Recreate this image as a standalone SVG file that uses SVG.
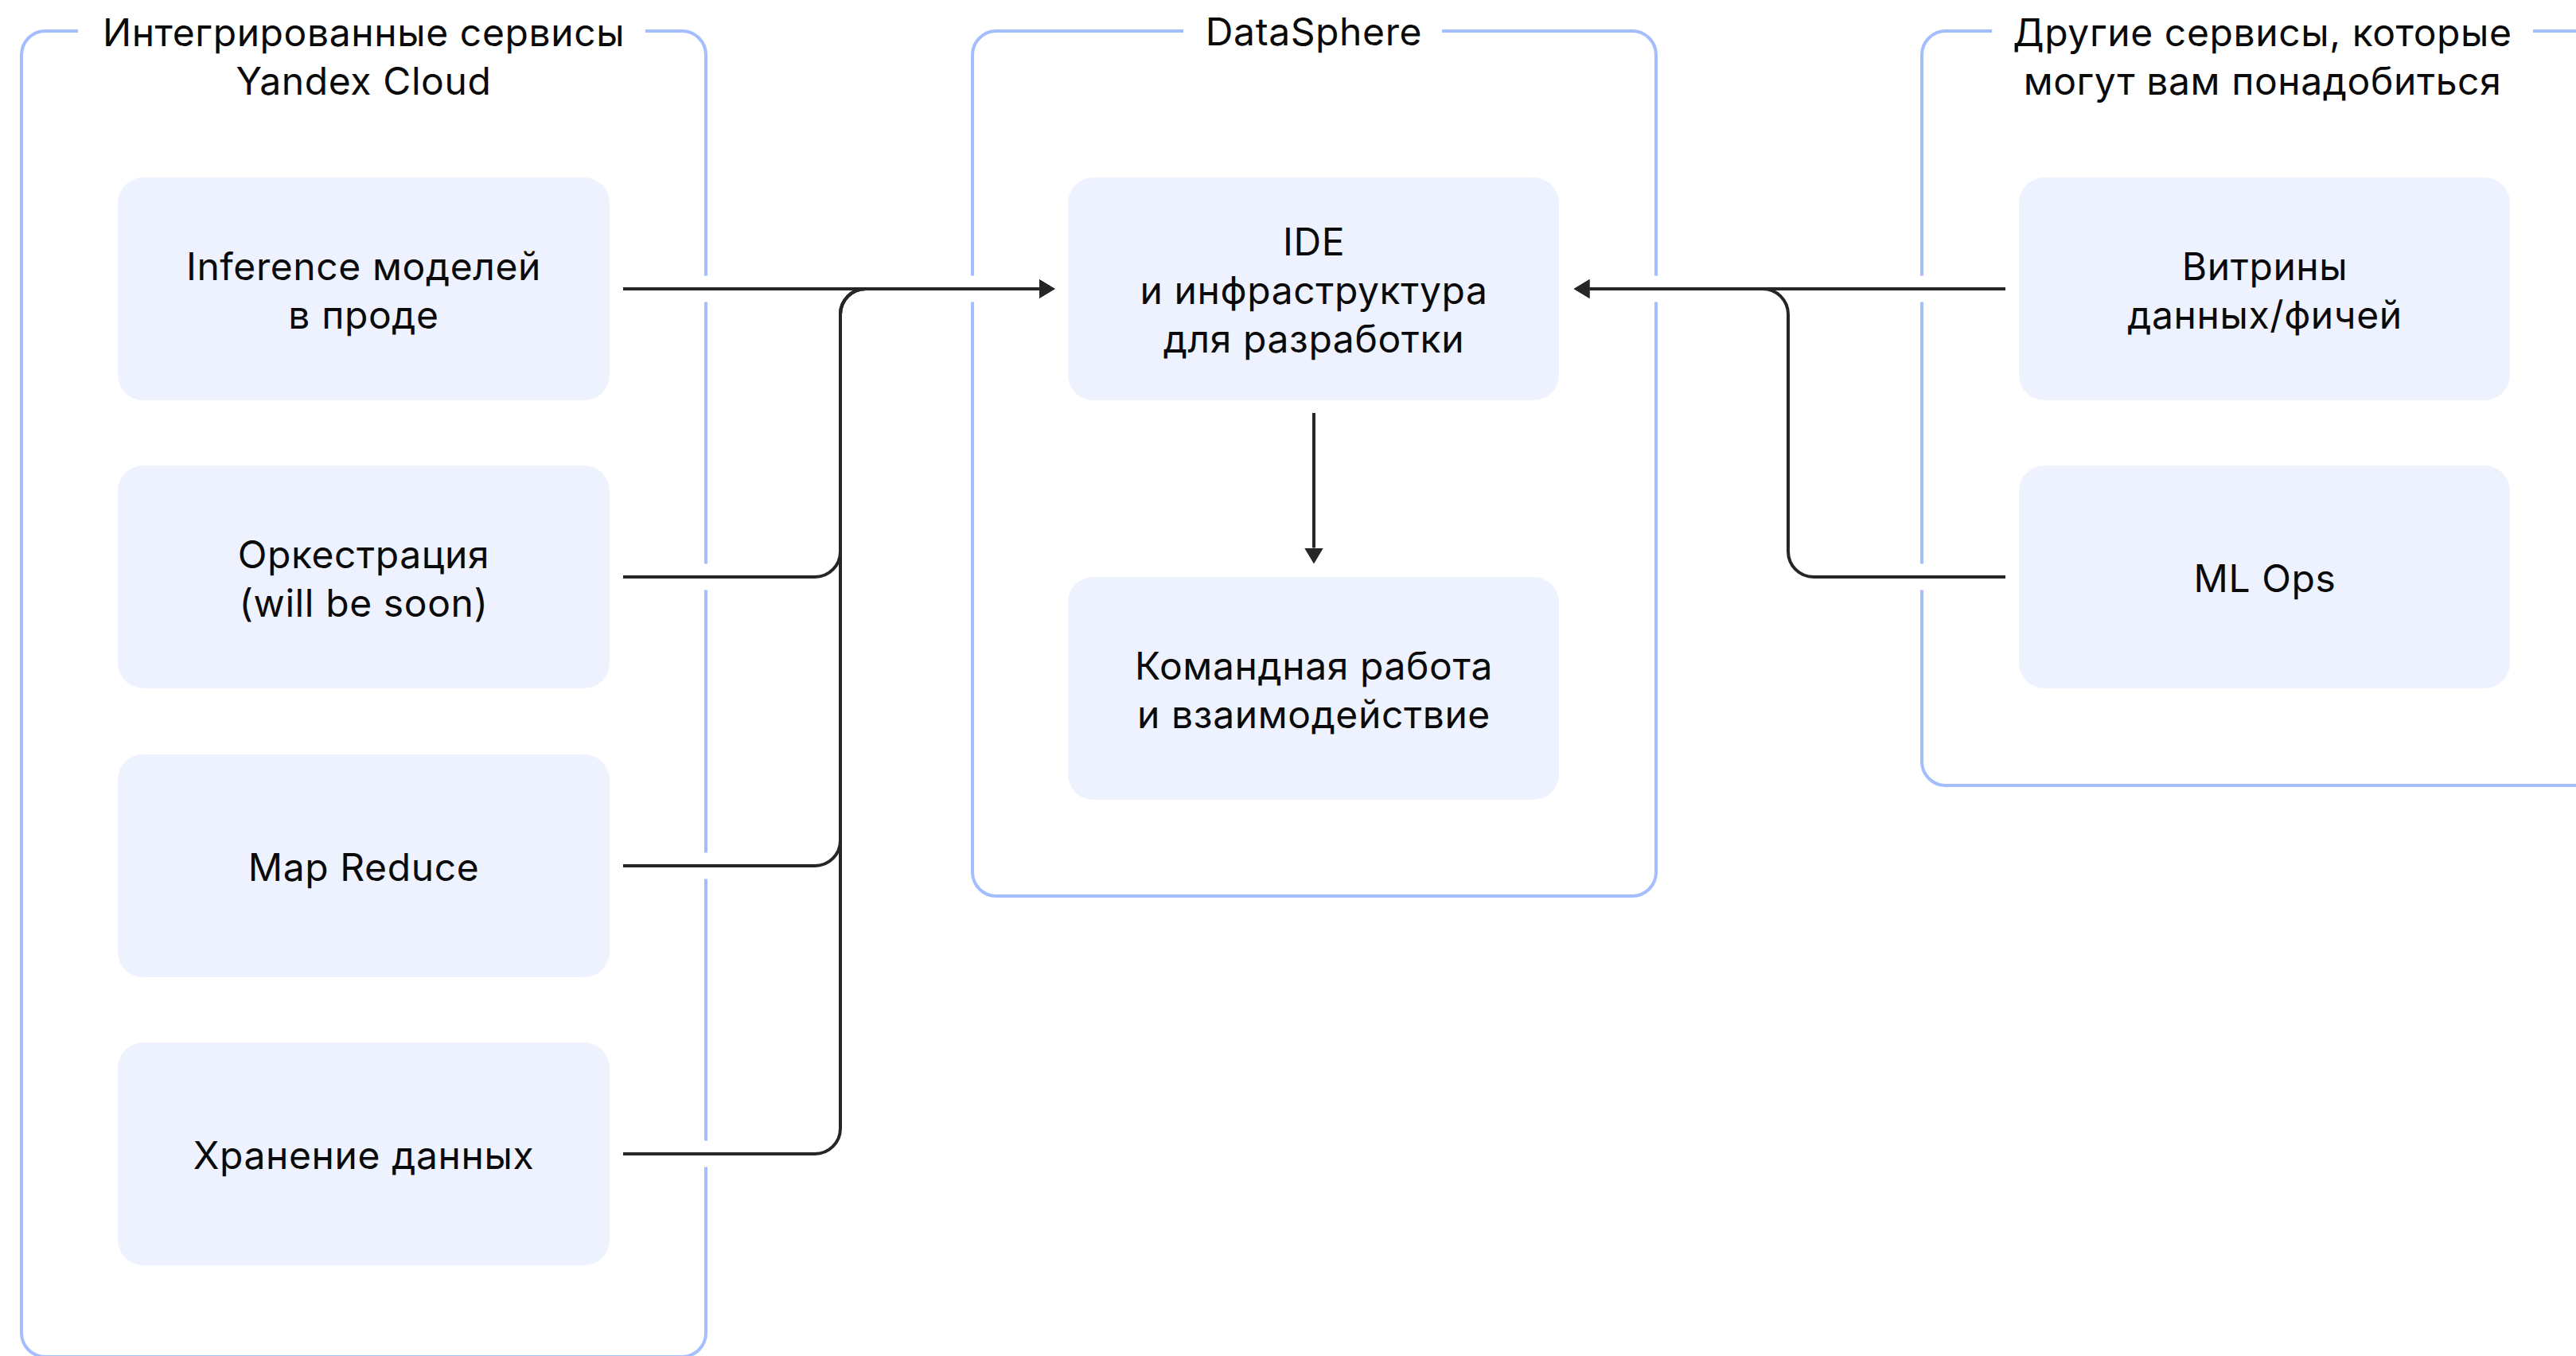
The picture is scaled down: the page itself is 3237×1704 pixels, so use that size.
<svg xmlns="http://www.w3.org/2000/svg" width="3237" height="1704" viewBox="0 0 3237 1704">
<style>
.grp{fill:none;stroke:#A3BDFF;stroke-width:4}
.box{fill:#EEF2FE}
.t{font-family:Inter,"Noto Sans",sans-serif;font-size:48px;letter-spacing:0.6px;fill:#0a0a0a;text-anchor:middle}
.c{fill:none;stroke:#262626;stroke-width:4}
</style>
<defs>
<marker id="ah" markerUnits="userSpaceOnUse" viewBox="0 0 20 24" refX="0" refY="12" markerWidth="20" markerHeight="24" orient="auto">
<polygon points="0,0 20,12 0,24" fill="#262626"/>
</marker>
<mask id="gaps" maskUnits="userSpaceOnUse" x="0" y="0" width="3237" height="1704">
<rect x="0" y="0" width="3237" height="1704" fill="#fff"/>
<rect x="98" y="20" width="713" height="40" fill="#000"/>
<rect x="1487" y="20" width="325" height="40" fill="#000"/>
<rect x="2503" y="20" width="680" height="40" fill="#000"/>
<rect x="880" y="346.5" width="14" height="33" fill="#000"/>
<rect x="880" y="708.5" width="14" height="33" fill="#000"/>
<rect x="880" y="1071.5" width="14" height="33" fill="#000"/>
<rect x="880" y="1433.5" width="14" height="33" fill="#000"/>
<rect x="1215" y="346.5" width="14" height="33" fill="#000"/>
<rect x="2074" y="346.5" width="14" height="33" fill="#000"/>
<rect x="2408" y="346.5" width="14" height="33" fill="#000"/>
<rect x="2408" y="708.5" width="14" height="33" fill="#000"/>
</mask>
</defs>
<rect width="3237" height="1704" fill="#fff"/>

<g id="group-yandex">
<rect class="grp" x="27" y="39" width="860" height="1666" rx="30" mask="url(#gaps)"/>
<text class="t" x="457" y="58">Интегрированные сервисы</text>
<text class="t" x="457" y="119">Yandex Cloud</text>
</g>
<g id="group-datasphere">
<rect class="grp" x="1222" y="39" width="859" height="1087" rx="30" mask="url(#gaps)"/>
<text class="t" x="1651" y="57">DataSphere</text>
</g>
<g id="group-other">
<rect class="grp" x="2415" y="39" width="900" height="948" rx="30" mask="url(#gaps)"/>
<text class="t" x="2843" y="58">Другие сервисы, которые</text>
<text class="t" x="2843" y="119">могут вам понадобиться</text>
</g>

<g id="node-inference">
<rect class="box" x="148" y="223" width="618" height="280" rx="32"/>
<text class="t" x="457" y="352">Inference моделей</text>
<text class="t" x="457" y="413">в проде</text>
</g>
<g id="node-orchestration">
<rect class="box" x="148" y="585" width="618" height="280" rx="32"/>
<text class="t" x="457" y="714">Оркестрация</text>
<text class="t" x="457" y="775">(will be soon)</text>
</g>
<g id="node-mapreduce">
<rect class="box" x="148" y="948" width="618" height="280" rx="32"/>
<text class="t" x="457" y="1107">Map Reduce</text>
</g>
<g id="node-storage">
<rect class="box" x="148" y="1310" width="618" height="280" rx="32"/>
<text class="t" x="457" y="1469">Хранение данных</text>
</g>
<g id="node-ide">
<rect class="box" x="1342" y="223" width="617" height="280" rx="32"/>
<text class="t" x="1651" y="321">IDE</text>
<text class="t" x="1651" y="382">и инфраструктура</text>
<text class="t" x="1651" y="443">для разработки</text>
</g>
<g id="node-team">
<rect class="box" x="1342" y="725" width="617" height="280" rx="32"/>
<text class="t" x="1651" y="854">Командная работа</text>
<text class="t" x="1651" y="915">и взаимодействие</text>
</g>
<g id="node-vitriny">
<rect class="box" x="2537" y="223" width="617" height="280" rx="32"/>
<text class="t" x="2846" y="352">Витрины</text>
<text class="t" x="2846" y="413">данных/фичей</text>
</g>
<g id="node-mlops">
<rect class="box" x="2537" y="585" width="617" height="280" rx="32"/>
<text class="t" x="2846" y="744">ML Ops</text>
</g>

<g id="connectors">
<path class="c" d="M783,363 H1305.5" marker-end="url(#ah)"/>
<path class="c" d="M783,725 H1024 A32,32 0 0 0 1056,693 V395 A32,32 0 0 1 1088,363 H1305.5" marker-end="url(#ah)"/>
<path class="c" d="M783,1088 H1024 A32,32 0 0 0 1056,1056 V395 A32,32 0 0 1 1088,363 H1305.5" marker-end="url(#ah)"/>
<path class="c" d="M783,1450 H1024 A32,32 0 0 0 1056,1418 V395 A32,32 0 0 1 1088,363 H1305.5" marker-end="url(#ah)"/>
<path class="c" d="M2520,363 H1997.5" marker-end="url(#ah)"/>
<path class="c" d="M2520,725 H2279 A32,32 0 0 1 2247,693 V395 A32,32 0 0 0 2215,363 H1997.5" marker-end="url(#ah)"/>
<path class="c" d="M1651,519 V688.5" marker-end="url(#ah)"/>
</g>
</svg>
